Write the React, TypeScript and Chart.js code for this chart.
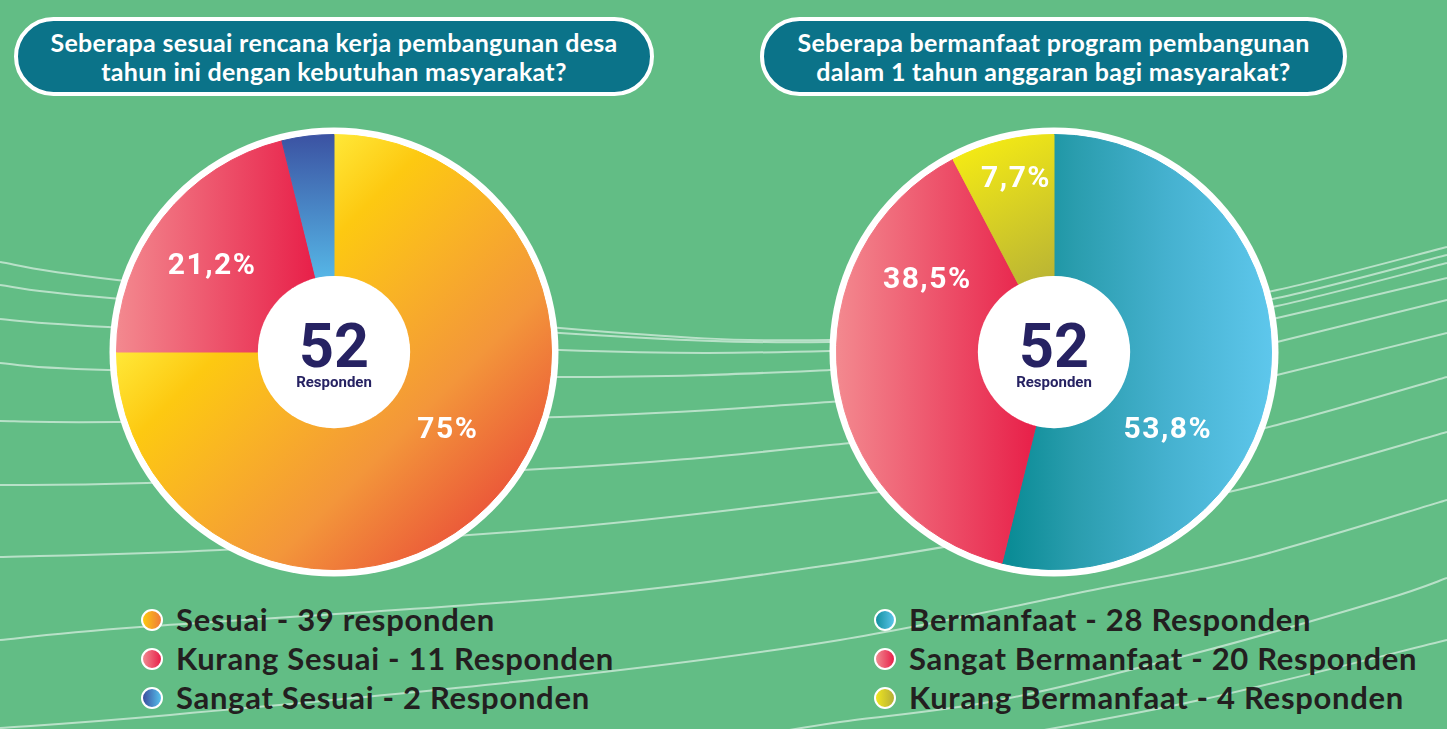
import React, { useEffect, useRef } from "react";
import { Chart, registerables } from "chart.js";

Chart.register(...registerables);

// ---------------- data ----------------
const totalRespondents = 52;
const centerCaption = "Responden";

const leftTitleLines = [
  "Seberapa sesuai rencana kerja pembangunan desa",
  "tahun ini dengan kebutuhan masyarakat?",
];
const leftCategories = ["Sesuai", "Kurang Sesuai", "Sangat Sesuai"];
const leftCounts = [39, 11, 2];
const leftUnitWords = ["responden", "Responden", "Responden"];

const rightTitleLines = [
  "Seberapa bermanfaat program pembangunan",
  "dalam 1 tahun anggaran bagi masyarakat?",
];
const rightCategories = ["Bermanfaat", "Sangat Bermanfaat", "Kurang Bermanfaat"];
const rightCounts = [28, 20, 4];
const rightUnitWords = ["Responden", "Responden", "Responden"];

// ---------------- styles ----------------
type Stop = [number, string];
type Grad = { from: [number, number]; to: [number, number]; stops: Stop[] };
type Spot = { along: number; radial: number } | null;

const leftSliceGradients: Grad[] = [
  {
    from: [0, 0],
    to: [1, 1],
    stops: [
      [0, "#FFF23E"],
      [0.25, "#FFE838"],
      [0.37, "#FDC911"],
      [0.5, "#F9B325"],
      [0.67, "#F3963A"],
      [0.88, "#EA5239"],
      [1, "#E43A36"],
    ],
  },
  { from: [0, 0], to: [0.45, 0], stops: [[0, "#F3898F"], [1, "#E8214A"]] },
  { from: [0.5, 0], to: [0.5, 0.36], stops: [[0, "#3B52A2"], [1, "#58BFEC"]] },
];

const rightSliceGradients: Grad[] = [
  {
    from: [0.4, 0],
    to: [1, 0],
    stops: [
      [0, "#0B8C96"],
      [0.25, "#2A9DAE"],
      [0.6, "#45B1CF"],
      [1, "#5EC7EC"],
    ],
  },
  { from: [0, 0], to: [0.45, 0], stops: [[0, "#F3898F"], [1, "#E8214A"]] },
  { from: [0.3, 0], to: [0.5, 0.38], stops: [[0, "#F8EE12"], [1, "#B3AE38"]] },
];

const leftSwatches = [
  "linear-gradient(90deg, #FDC80F, #EF7B3B)",
  "linear-gradient(90deg, #F08A90, #E8204A)",
  "linear-gradient(90deg, #3A4E9E, #56C0EC)",
];
const rightSwatches = [
  "linear-gradient(90deg, #1590A0, #5BC4EA)",
  "linear-gradient(90deg, #F08A90, #E8204A)",
  "linear-gradient(90deg, #F0E620, #B5AE36)",
];

const leftLabelSpots: Spot[] = [
  { along: 0.458, radial: 0.625 },
  { along: 0.47, radial: 0.695 },
  null,
];
const rightLabelSpots: Spot[] = [
  { along: 0.638, radial: 0.625 },
  { along: 0.77, radial: 0.68 },
  { along: 0.55, radial: 0.825 },
];

// decorative background lines (not data)
const decoLines: number[][][] = [
  [[0, 262], [117, 280], [560, 328], [830, 340], [1120, 318], [1277, 290], [1447, 247]],
  [[0, 285], [110, 298], [560, 333], [830, 342], [1120, 325], [1277, 298], [1447, 255]],
  [[0, 319], [108, 327], [560, 350], [830, 351], [1120, 336], [1277, 306], [1447, 263]],
  [[0, 363], [108, 370], [560, 377], [830, 370], [1120, 352], [1277, 318], [1447, 278]],
  [[0, 421], [117, 422], [560, 417], [830, 402], [1120, 380], [1277, 342], [1447, 300]],
  [[0, 485], [147, 483], [560, 468], [830, 445], [1120, 412], [1277, 375], [1447, 333]],
  [[0, 557], [220, 550], [560, 528], [830, 498], [1120, 460], [1277, 425], [1447, 377]],
  [[0, 640], [140, 627], [560, 598], [830, 565], [1050, 528], [1250, 487], [1447, 432]],
  [[0, 728], [170, 715], [560, 677], [840, 640], [1093, 590], [1250, 558], [1447, 500]],
  [[760, 735], [840, 722], [1000, 700], [1200, 652], [1383, 600], [1447, 578]],
  [[1000, 738], [1200, 700], [1447, 640]],
];

// ---------------- helpers ----------------
const formatPct = (v: number, total: number) => {
  const p = Math.round((v / total) * 1000) / 10;
  const s = Number.isInteger(p) ? String(p) : p.toFixed(1).replace(".", ",");
  return s + "%";
};

function makeGradient(chart: any, g: Grad) {
  const a = chart.chartArea;
  if (!a) return g.stops[0][1];
  const w = a.right - a.left;
  const h = a.bottom - a.top;
  const grad = chart.ctx.createLinearGradient(
    a.left + g.from[0] * w,
    a.top + g.from[1] * h,
    a.left + g.to[0] * w,
    a.top + g.to[1] * h
  );
  g.stops.forEach(([o, c]) => grad.addColorStop(o, c));
  return grad;
}

function smoothPath(pts: number[][]) {
  let d = `M${pts[0][0]},${pts[0][1]}`;
  for (let i = 0; i < pts.length - 1; i++) {
    const p0 = pts[i - 1] || pts[i];
    const p1 = pts[i];
    const p2 = pts[i + 1];
    const p3 = pts[i + 2] || p2;
    const c1x = p1[0] + (p2[0] - p0[0]) / 6;
    const c1y = p1[1] + (p2[1] - p0[1]) / 6;
    const c2x = p2[0] - (p3[0] - p1[0]) / 6;
    const c2y = p2[1] - (p3[1] - p1[1]) / 6;
    d += ` C${c1x},${c1y} ${c2x},${c2y} ${p2[0]},${p2[1]}`;
  }
  return d;
}

const pieDecor = {
  id: "pieDecor",
  beforeDatasetsDraw(chart: any, _args: any, opts: any) {
    const arc = chart.getDatasetMeta(0).data[0];
    if (!arc) return;
    const ctx = chart.ctx;
    ctx.save();
    ctx.beginPath();
    ctx.arc(arc.x, arc.y, arc.outerRadius + opts.ringWidth, 0, Math.PI * 2);
    ctx.fillStyle = "#ffffff";
    ctx.fill();
    ctx.restore();
  },
  afterDatasetsDraw(chart: any, _args: any, opts: any) {
    const meta = chart.getDatasetMeta(0);
    const ctx = chart.ctx;
    const data = chart.data.datasets[0].data as number[];
    const total = data.reduce((a, b) => a + b, 0);
    meta.data.forEach((el: any, i: number) => {
      const spot = opts.spots[i];
      if (!spot) return;
      const ang = el.startAngle + (el.endAngle - el.startAngle) * spot.along;
      const r = el.outerRadius * spot.radial;
      const x = el.x + Math.cos(ang) * r;
      const y = el.y + Math.sin(ang) * r;
      ctx.save();
      ctx.font = "700 30px Roboto";
      (ctx as any).letterSpacing = "1.5px";
      ctx.fillStyle = "#ffffff";
      ctx.textAlign = "center";
      ctx.textBaseline = "alphabetic";
      ctx.fillText(formatPct(data[i], total), x + 0.75, y + 10.5);
      ctx.restore();
    });
    const first = meta.data[0];
    if (!first) return;
    ctx.save();
    ctx.beginPath();
    ctx.arc(first.x, first.y, first.innerRadius, 0, Math.PI * 2);
    ctx.fillStyle = "#ffffff";
    ctx.fill();
    ctx.fillStyle = "#262262";
    ctx.textAlign = "center";
    ctx.textBaseline = "alphabetic";
    ctx.font = "700 61px Roboto";
    ctx.fillText(String(opts.total), first.x, first.y + 15);
    ctx.font = "700 15px Roboto";
    ctx.fillText(opts.caption, first.x, first.y + 35);
    ctx.restore();
  },
};

// ---------------- components ----------------
function Doughnut(props: {
  left: number;
  top: number;
  size: number;
  categories: string[];
  counts: number[];
  grads: Grad[];
  spots: Spot[];
}) {
  const ref = useRef<HTMLCanvasElement>(null);
  useEffect(() => {
    if (!ref.current) return;
    const chart = new Chart(ref.current, {
      type: "doughnut",
      data: {
        labels: props.categories,
        datasets: [
          {
            data: props.counts,
            backgroundColor: (c: any) => makeGradient(c.chart, props.grads[c.dataIndex ?? 0]),
            borderColor: (c: any) => makeGradient(c.chart, props.grads[c.dataIndex ?? 0]),
            borderWidth: 1,
            hoverOffset: 0,
          },
        ],
      },
      options: {
        responsive: false,
        animation: false,
        events: [],
        cutout: "35%",
        layout: { padding: 10 },
        plugins: {
          legend: { display: false },
          tooltip: { enabled: false },
          pieDecor: {
            ringWidth: 7,
            spots: props.spots,
            total: totalRespondents,
            caption: centerCaption,
          },
        } as any,
      },
      plugins: [pieDecor as any],
    });
    return () => chart.destroy();
  }, []);
  return (
    <canvas
      ref={ref}
      width={props.size}
      height={props.size}
      style={{ position: "absolute", left: props.left, top: props.top, width: props.size, height: props.size }}
    />
  );
}

function TitlePill(props: { left: number; top: number; width: number; height: number; lines: string[] }) {
  return (
    <div
      style={{
        position: "absolute",
        left: props.left,
        top: props.top,
        width: props.width,
        height: props.height,
        boxSizing: "border-box",
        border: "4px solid #ffffff",
        borderRadius: 40,
        background: "#0B7389",
        color: "#ffffff",
        fontFamily: "Lato, sans-serif",
        fontWeight: 700,
        fontSize: 25,
        letterSpacing: "0.3px",
        lineHeight: "29px",
        display: "flex",
        flexDirection: "column",
        alignItems: "center",
        justifyContent: "center",
        textAlign: "center",
        whiteSpace: "nowrap",
      }}
    >
      {props.lines.map((l, i) => (
        <div key={i}>{l}</div>
      ))}
    </div>
  );
}

function Legend(props: {
  left: number;
  top: number;
  categories: string[];
  counts: number[];
  units: string[];
  swatches: string[];
}) {
  return (
    <div style={{ position: "absolute", left: props.left, top: props.top }}>
      {props.categories.map((c, i) => (
        <div key={i} style={{ display: "flex", alignItems: "center", height: 39 }}>
          <div
            style={{
              width: 22,
              height: 22,
              boxSizing: "border-box",
              borderRadius: "50%",
              border: "2px solid #ffffff",
              background: props.swatches[i],
              marginRight: 13,
              flex: "none",
            }}
          />
          <div
            style={{
              fontFamily: "Lato, sans-serif",
              fontWeight: 700,
              fontSize: 31,
              letterSpacing: "0.7px",
              color: "#231F20",
              whiteSpace: "nowrap",
              lineHeight: "39px",
            }}
          >
            {`${c} - ${props.counts[i]} ${props.units[i]}`}
          </div>
        </div>
      ))}
    </div>
  );
}

export default function App() {
  return (
    <div
      style={{
        position: "absolute",
        left: 0,
        top: 0,
        width: 1447,
        height: 729,
        overflow: "hidden",
        background: "#62BD85",
      }}
    >
      <svg width={1447} height={729} style={{ position: "absolute", left: 0, top: 0 }}>
        {decoLines.map((pts, i) => (
          <path key={i} d={smoothPath(pts)} fill="none" stroke="rgba(255,255,255,0.55)" strokeWidth={2} />
        ))}
      </svg>
      <TitlePill left={14} top={17} width={640} height={79} lines={leftTitleLines} />
      <TitlePill left={760} top={17} width={587} height={79} lines={rightTitleLines} />
      <Doughnut
        left={106}
        top={124}
        size={456}
        categories={leftCategories}
        counts={leftCounts}
        grads={leftSliceGradients}
        spots={leftLabelSpots}
      />
      <Doughnut
        left={826}
        top={124}
        size={456}
        categories={rightCategories}
        counts={rightCounts}
        grads={rightSliceGradients}
        spots={rightLabelSpots}
      />
      <Legend
        left={141}
        top={600}
        categories={leftCategories}
        counts={leftCounts}
        units={leftUnitWords}
        swatches={leftSwatches}
      />
      <Legend
        left={874}
        top={600}
        categories={rightCategories}
        counts={rightCounts}
        units={rightUnitWords}
        swatches={rightSwatches}
      />
    </div>
  );
}
